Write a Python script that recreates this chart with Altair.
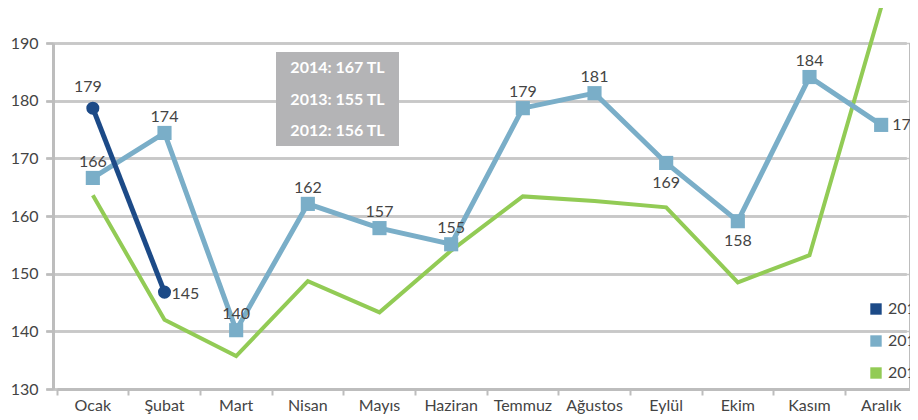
import altair as alt
import pandas as pd

months = ["Ocak", "Şubat", "Mart", "Nisan", "Mayıs", "Haziran", "Temmuz",
          "Ağustos", "Eylül", "Ekim", "Kasım", "Aralık"]
v2013 = [163.6, 142.0, 135.7, 148.7, 143.3, 154.0, 163.4, 162.6, 161.5, 148.5, 153.2, 196.2]
v2014 = [166.6, 174.4, 140.2, 162.1, 157.9, 155.1, 178.7, 181.3, 169.2, 159.1, 184.1, 175.8]
v2015 = [178.7, 146.8]
labels2014 = ["166", "174", "140", "162", "157", "155", "179", "181", "169", "158", "184", "176"]
pos2014 = ["above", "above", "above", "above", "above", "above", "above", "above",
           "below", "below", "above", "right"]
labels2015 = ["179", "145"]
pos2015 = ["above2", "right2"]
legend_years = ["2015", "2014", "2013"]
colors = ["#1c4a87", "#7aaec8", "#92cb55"]
note_lines = ["2014: 167 TL", "2013: 155 TL", "2012: 156 TL"]

FONT = "Lato"
TXT = "#444444"

rows = []
for m, v in zip(months, v2013):
    rows.append({"month": m, "year": "2013", "value": v, "label": "", "pos": "none"})
for m, v, l, p in zip(months, v2014, labels2014, pos2014):
    rows.append({"month": m, "year": "2014", "value": v, "label": l, "pos": p})
for m, v, l, p in zip(months[:2], v2015, labels2015, pos2015):
    rows.append({"month": m, "year": "2015", "value": v, "label": l, "pos": p})
df = pd.DataFrame(rows)

note_df = pd.DataFrame({"line": note_lines, "idx": [0, 1, 2]})
legend_df = pd.DataFrame({"year": legend_years})

color_scale = alt.Scale(domain=legend_years, range=colors)

x_enc = alt.X("month:N", sort=months,
              scale=alt.Scale(type="band", paddingInner=0, paddingOuter=0, range=[4, 864]),
              axis=alt.Axis(title=None, bandPosition=0, labelFont=FONT, labelFontSize=16,
                            labelColor=TXT, labelPadding=2, tickSize=6, tickColor="#bdbdbd",
                            tickWidth=2, domainColor="#bdbdbd", domainWidth=3, grid=False,
                            labelAngle=0))
y_enc = alt.Y("value:Q",
              scale=alt.Scale(domain=[130, 190], nice=False, zero=False),
              axis=alt.Axis(title=None, values=[130, 140, 150, 160, 170, 180, 190],
                            labelFont=FONT, labelFontSize=16, labelColor=TXT,
                            labelPadding=8, tickSize=7, tickColor="#bdbdbd", tickWidth=2,
                            domainColor="#bdbdbd", domainWidth=3, grid=True,
                            gridColor="#c8c8c8", gridWidth=1.5))

base = alt.Chart(df).encode(x=x_enc, y=y_enc)

def series(y):
    return base.transform_filter(alt.datum.year == y)

col = alt.Color("year:N", scale=color_scale, legend=None)
line13 = series("2013").mark_line(strokeWidth=4).encode(color=col)
line14 = series("2014").mark_line(strokeWidth=5).encode(color=col)
line15 = series("2015").mark_line(strokeWidth=5).encode(color=col)
sq14 = series("2014").mark_square(size=200, opacity=1, filled=True).encode(color=col)
pt15 = series("2015").mark_circle(size=170, opacity=1).encode(color=col)

def lab(p, **kw):
    return base.transform_filter(alt.datum.pos == p).mark_text(
        font=FONT, fontSize=16, color=TXT, **kw).encode(text="label:N")

lab_above = lab("above", dy=-16, baseline="middle", align="center")
lab_below = lab("below", dy=20, baseline="middle", align="center")
lab_right = lab("right", dx=11, baseline="middle", align="left")
lab_above2 = lab("above2", dy=-21, dx=-5, baseline="middle", align="center")
lab_right2 = lab("right2", dx=7, dy=2, baseline="middle", align="left")

legend_layer = alt.Chart(legend_df).mark_square(filled=True, opacity=0, size=1).encode(
    x=alt.value(0), y=alt.value(0),
    color=alt.Color("year:N", scale=color_scale,
                    legend=alt.Legend(title=None, orient="none", legendX=815, legendY=258,
                                      symbolType="square", symbolSize=130,
                                      symbolOpacity=1, symbolStrokeWidth=0,
                                      labelFont=FONT, labelFontSize=16, labelColor=TXT,
                                      rowPadding=16, labelOffset=4)))

note_box = alt.Chart(pd.DataFrame({"a": [0]})).mark_rect(color="#b4b4b6").encode(
    x=alt.value(223), x2=alt.value(346), y=alt.value(9), y2=alt.value(103))
note_text = alt.Chart(note_df).mark_text(
    font=FONT, fontSize=16, fontWeight="bold", color="white", align="center",
    baseline="middle").encode(
    x=alt.value(284.5),
    y=alt.Y("idx:O", scale=alt.Scale(type="point", range=[25, 88], padding=0), axis=None),
    text="line:N")

chart = alt.layer(
    line13, line14, line15, sq14, pt15,
    lab_above, lab_below, lab_right, lab_above2, lab_right2,
    legend_layer, note_box, note_text
).resolve_scale(y="independent", color="independent").resolve_legend(
    color="independent").properties(
    width=857, height=346,
    padding={"left": 45, "top": 35, "right": 0, "bottom": 25},
    autosize=alt.AutoSizeParams(type="none"),
).configure_view(stroke=None).configure(background="white")

chart.save("out.html", embed_options={"renderer": "svg", "actions": False})
